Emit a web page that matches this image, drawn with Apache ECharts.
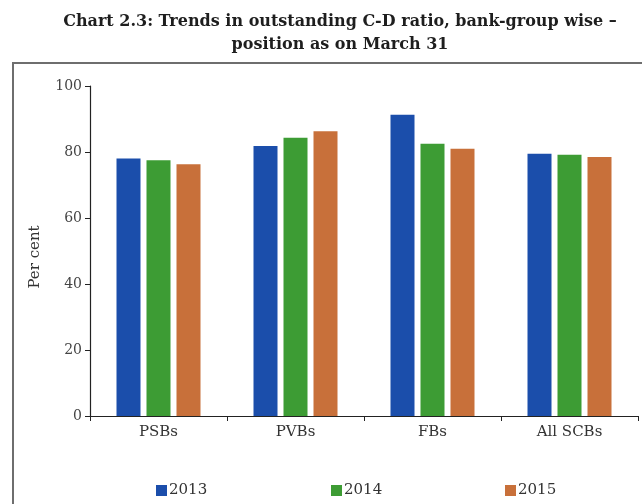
<!DOCTYPE html>
<html>
<head>
<meta charset="utf-8">
<script src="https://cdn.jsdelivr.net/npm/echarts@6/dist/echarts.min.js"></script>
<style>
  html, body { margin: 0; padding: 0; background: #fff; }
  #chart { width: 642px; height: 504px; }
</style>
</head>
<body>
<div id="chart"></div>
<script>
// Bank groups and C-D ratio (per cent) as on March 31 of each year
const categories = ['PSBs', 'PVBs', 'FBs', 'All SCBs'];
const years = ['2013', '2014', '2015'];
const ratio2013 = [78.0, 81.8, 91.3, 79.5];
const ratio2014 = [77.5, 84.3, 82.5, 79.2];
const ratio2015 = [76.3, 86.3, 81.0, 78.5];
const yTicks = { min: 0, max: 100, interval: 20 };

const colors = ['#1b4eab', '#3d9c34', '#c8703a'];
const serif = 'DejaVu Serif';

const seriesValues = [ratio2013, ratio2014, ratio2015];

const chart = echarts.init(document.getElementById('chart'));

const legendLefts = [151, 326, 500];

chart.setOption({
  animation: false,
  color: colors,
  title: {
    text: 'Chart 2.3: Trends in outstanding C-D ratio, bank-group wise –\nposition as on March 31',
    left: 335,
    textAlign: 'center',
    top: 5,
    textStyle: {
      fontFamily: serif,
      fontWeight: 'bold',
      fontSize: 16,
      lineHeight: 23,
      color: '#1e1e1e'
    }
  },
  graphic: [{
    type: 'rect',
    shape: { x: 13, y: 63, width: 660, height: 480 },
    style: { fill: 'none', stroke: '#6e6e6e', lineWidth: 2 },
    silent: true
  }],
  legend: years.map((y, i) => ({
    data: [y],
    left: legendLefts[i],
    top: 478,
    itemWidth: 11,
    itemHeight: 11,
    itemGap: 0,
    icon: 'rect',
    textStyle: { fontFamily: serif, fontSize: 15, color: '#333', padding: [0, 0, 0, -3] }
  })),
  grid: { left: 90, right: 4, top: 86, bottom: 88 },
  xAxis: {
    type: 'category',
    data: categories,
    axisLine: { lineStyle: { color: '#222', width: 1.2 } },
    axisTick: { show: true, length: 5, lineStyle: { color: '#222' } },
    axisLabel: { fontFamily: serif, fontSize: 15, color: '#333', margin: 9 }
  },
  yAxis: {
    type: 'value',
    min: yTicks.min,
    max: yTicks.max,
    interval: yTicks.interval,
    name: 'Per cent',
    nameLocation: 'middle',
    nameGap: 47,
    nameTextStyle: { fontFamily: serif, fontSize: 15, color: '#333', padding: [0, 0, 0, -12] },
    axisLine: { show: true, lineStyle: { color: '#222', width: 1.2 } },
    axisTick: { show: true, length: 5, lineStyle: { color: '#222' } },
    splitLine: { show: false },
    axisLabel: { fontFamily: serif, fontSize: 14, color: '#444', margin: 8 }
  },
  series: years.map((y, i) => ({
    name: y,
    type: 'bar',
    data: seriesValues[i],
    barWidth: 24,
    barGap: '25%',
    itemStyle: { color: colors[i] }
  }))
});
</script>
</body>
</html>
